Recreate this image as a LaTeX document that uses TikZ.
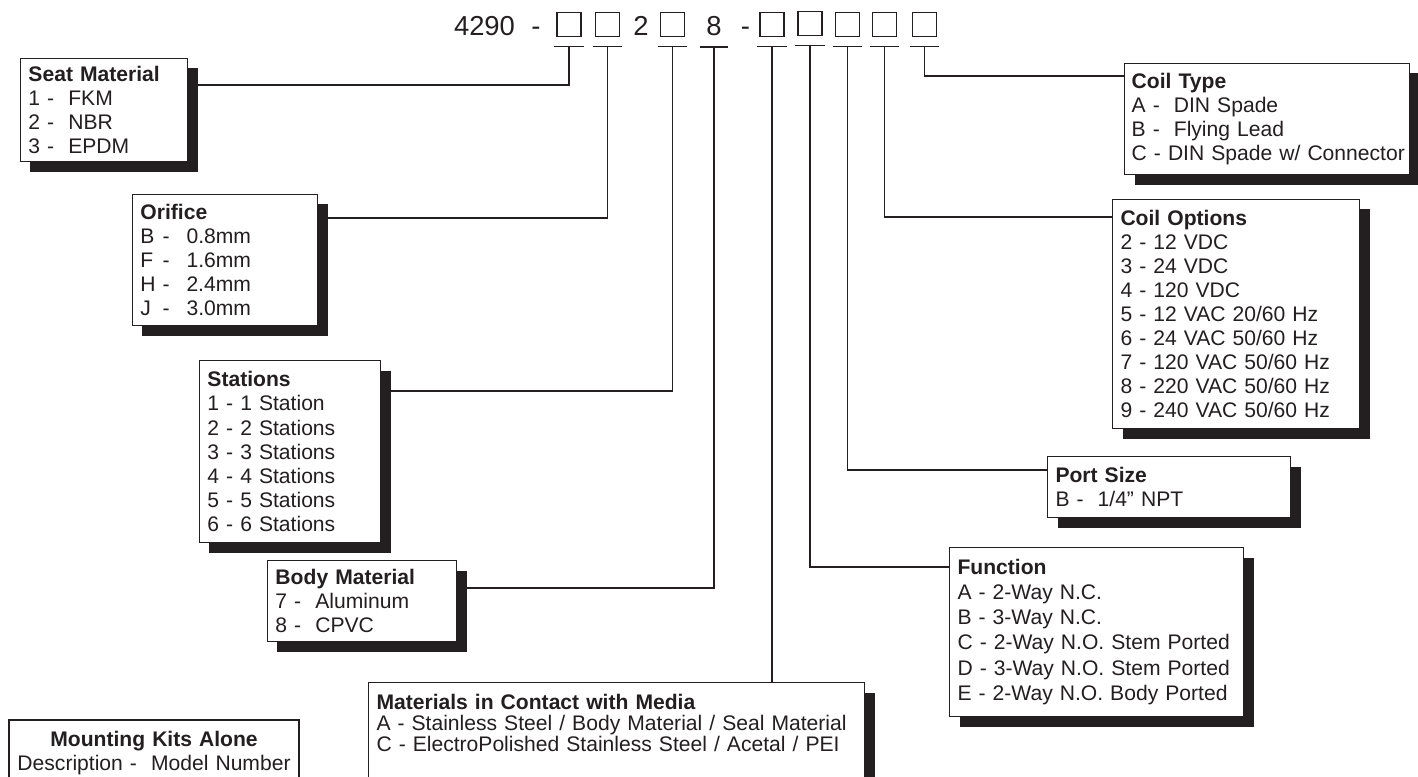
\documentclass[tikz,border=0pt]{standalone}
\usepackage{fontspec}
\setmainfont{Liberation Sans}
\usetikzlibrary{shadows}
\definecolor{ink}{RGB}{35,31,32}
\newcommand{\optrow}[2]{\makebox[1.05em][l]{#1}-\hspace{0.8em}#2}
\hyphenpenalty=10000
\exhyphenpenalty=10000

\tikzset{
  sq/.style={draw=ink, line width=1.3pt, minimum size=0.6cm, inner sep=0pt},
  big/.style={text=ink, font=\fontsize{19.5}{22}\selectfont, inner sep=0pt, anchor=base},
  box/.style={draw=ink, line width=0.7pt, fill=white, text=ink, anchor=north west, align=left,
    inner xsep=0.2cm, inner ysep=0pt, font=\fontsize{15}{17.1}\selectfont,
    drop shadow={shadow xshift=0.25cm, shadow yshift=-0.25cm, fill=ink, opacity=1}},
  kitbox/.style={draw=ink, line width=1.4pt, fill=white, text=ink, anchor=north west, align=center,
    inner xsep=0.1cm, inner ysep=0.28cm, font=\fontsize{15}{17.1}\selectfont},
  wire/.style={draw=ink, line width=1.1pt},
}

\begin{document}
\begin{tikzpicture}[x=0.025cm, y=-0.025cm]
\useasboundingbox (0,0) rectangle (1418,776);

% part number
\node[big] (n0) at (484.5,35) {4290};
\node[big] (d0) at (536,35) {-};
\node[sq] (s1) at (569,24.5) {};
\node[sq] (s2) at (607.5,24.5) {};
\node[big] (n2) at (641,35) {2};
\node[sq] (s3) at (672.5,24.5) {};
\node[big] (n8) at (714,35) {8};
\node[big] (d1) at (745.5,35) {-};
\node[sq] (s4) at (772,24.5) {};
\node[sq] (s5) at (810,23.5) {};
\node[sq] (s6) at (847.5,24.5) {};
\node[sq] (s7) at (884.5,24.5) {};
\node[sq] (s8) at (924.5,24.5) {};

% ticks under the part number
\foreach \i in {1,...,8} {
  \coordinate (k\i) at ([yshift=-0.225cm]s\i.south);
  \draw[wire, shorten <=-0.04cm, shorten >=-0.04cm] ([yshift=-0.225cm]s\i.south west) -- ([yshift=-0.225cm]s\i.south east);
}
\coordinate (k9) at ([yshift=-0.3cm]n8.base);
\draw[wire] ([shift={(-0.34cm,-0.3cm)}]n8.base) -- ([shift={(0.34cm,-0.3cm)}]n8.base);

% option boxes
\node[box, text width=3.775cm, minimum height=2.575cm] (seat) at (20,58)
  {\textbf{Seat Material}\\1 -~~FKM\\2 -~~NBR\\3 -~~EPDM};
\node[box, text width=4.225cm, minimum height=3.275cm] (orif) at (132,194)
  {\textbf{Orifice}\\\optrow{B}{0.8mm}\\\optrow{F}{1.6mm}\\\optrow{H}{2.4mm}\\\optrow{J}{3.0mm}};
\node[box, text width=4.125cm, minimum height=4.55cm] (stat) at (199,360)
  {\textbf{Stations}\\1 - 1 Station\\2 - 2 Stations\\3 - 3 Stations\\4 - 4 Stations\\5 - 5 Stations\\6 - 6 Stations};
\node[box, text width=4.325cm, minimum height=2.025cm] (body) at (267,560)
  {\textbf{Body Material}\\7 -~~Aluminum\\8 -~~CPVC};
\node[box, text width=12cm, inner ysep=0.3cm, font=\fontsize{15}{14.9}\selectfont] (mat) at (368,682)
  {\textbf{Materials in Contact with Media}\\A - Stainless Steel / Body Material / Seal Material\\C - ElectroPolished Stainless Steel / Acetal / PEI\\[1.5cm]\strut};
\node[box, text width=6.95cm, minimum height=4.225cm, font=\fontsize{15}{17.8}\selectfont] (func) at (949,547)
  {\textbf{Function}\\A - 2-Way N.C.\\B - 3-Way N.C.\\C - 2-Way N.O. Stem Ported\\D - 3-Way N.O. Stem Ported\\E - 2-Way N.O. Body Ported};
\node[box, text width=5.675cm, minimum height=1.525cm] (port) at (1047,456)
  {\textbf{Port Size}\\B -~~1/4” NPT};
\node[box, text width=5.775cm, minimum height=5.725cm] (opts) at (1112,199)
  {\textbf{Coil Options}\\2 - 12 VDC\\3 - 24 VDC\\4 - 120 VDC\\5 - 12 VAC 20/60 Hz\\6 - 24 VAC 50/60 Hz\\7 - 120 VAC 50/60 Hz\\8 - 220 VAC 50/60 Hz\\9 - 240 VAC 50/60 Hz};
\node[box, text width=6.765cm, inner xsep=0.18cm, minimum height=2.775cm] (type) at (1124,63)
  {\textbf{Coil Type}\\A -~~DIN Spade\\B -~~Flying Lead\\\mbox{C - DIN Spade w/ Connector}};
\node[kitbox, text width=7.05cm] (kits) at (8,719)
  {\textbf{Mounting Kits Alone}\\Description -~~Model Number\\[1.5cm]\strut};

% connectors
\draw[wire] (k1) |- ([shift={(0.25cm,-0.675cm)}]seat.north east);
\draw[wire] (k2) |- ([shift={(0.25cm,-0.6cm)}]orif.north east);
\draw[wire] (k3) |- ([shift={(0.25cm,-0.775cm)}]stat.north east);
\draw[wire] (k9) |- ([shift={(0.25cm,-0.7cm)}]body.north east);
\draw[wire] (k4) -- (k4 |- mat.north);
\draw[wire] (k5) |- ([yshift=-0.5cm]func.north west);
\draw[wire] (k6) |- ([yshift=-0.35cm]port.north west);
\draw[wire] (k7) |- ([yshift=-0.45cm]opts.north west);
\draw[wire] (k8) |- ([yshift=-0.325cm]type.north west);
\end{tikzpicture}
\end{document}
